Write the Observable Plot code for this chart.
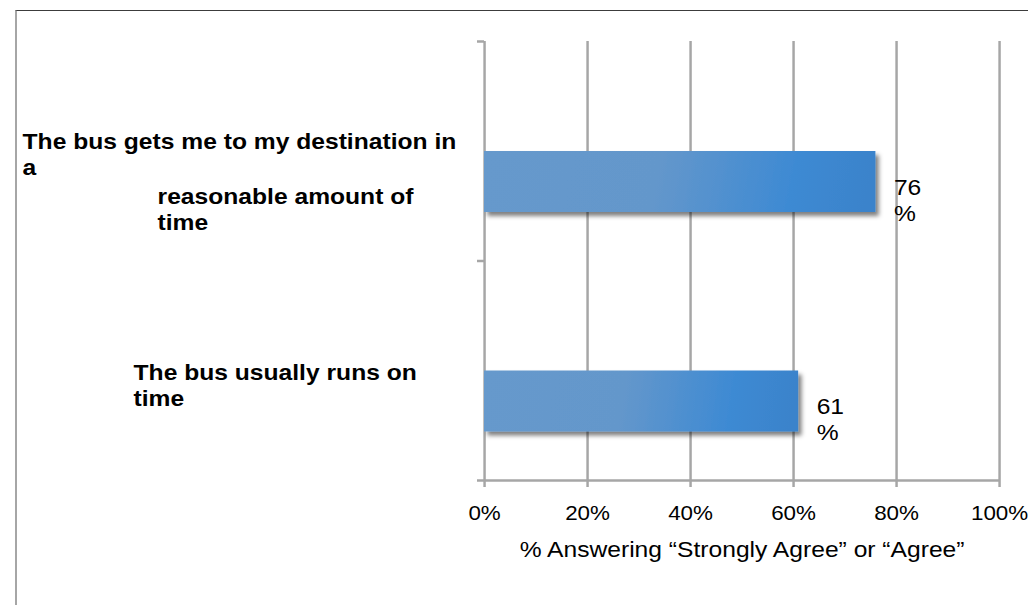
<!DOCTYPE html>
<html><head><meta charset="utf-8">
<script src="https://cdn.jsdelivr.net/npm/d3@7"></script>
<script src="https://cdn.jsdelivr.net/npm/@observablehq/plot@0.6"></script>
<style>
html,body{margin:0;padding:0;background:#fff;overflow:hidden;width:1028px;height:605px;}
#frame{position:absolute;left:15px;top:10px;width:2000px;height:2000px;border-top:1.5px solid #3c3c3c;border-left:2px solid #a6a6a6;}
#chart{position:absolute;left:0;top:0;}
</style></head><body>
<div id="frame"></div><div id="chart"></div>
<script>
// ---- data ----
const categories = [
  "The bus gets me to my destination in a reasonable amount of time",
  "The bus usually runs on time"
];
const values = [76, 61];
const labelChunks = [
  ["The bus gets me to my destination in\na", "reasonable amount of\ntime"],
  ["The bus usually runs on\ntime"]
];
const xTicks = [0, 20, 40, 60, 80, 100];
const xTitle = "% Answering \u201cStrongly Agree\u201d or \u201cAgree\u201d";

// ---- layout ----
const S = 1.12, W = 1028 / S, H = 605;
const gray = "#a6a6a6";
const barFallback = "#5f95cd";
const font = "'Liberation Sans', Arial, Helvetica, sans-serif";
const data = categories.map((c, i) => ({category: c, value: values[i], i}));

const labelText = (chunk, dx, dy) => Plot.text([data[chunk[0]]], {
  y: d => d.i + 0.5, text: () => labelChunks[chunk[0]][chunk[1]],
  frameAnchor: "left", textAnchor: "start", lineAnchor: "middle", lineHeight: 1.2,
  dx, dy, fontSize: 22, fontWeight: "bold", fill: "#000"
});

const chart = Plot.plot({
  width: W, height: H,
  marginLeft: 484 / S, marginRight: 29 / S, marginTop: 41, marginBottom: 125,
  style: {fontFamily: font, fontSize: "20px", color: "#000", background: "transparent", overflow: "visible"},
  x: {domain: [0, 100]},
  y: {domain: [0, categories.length], reverse: true},
  marks: [
    Plot.ruleX(xTicks, {stroke: gray, strokeWidth: 2.2, strokeOpacity: 1}),
    Plot.rect(data, {x1: 0, x2: "value", y1: "i", y2: d => d.i + 1, insetTop: 110, insetBottom: 48.5, fill: barFallback}),
    Plot.ruleY([categories.length], {stroke: gray, strokeWidth: 2.5, strokeOpacity: 1}),
    Plot.axisY(d3.range(categories.length + 1), {tickSize: 6.25, tickFormat: () => "", stroke: gray, strokeWidth: 2.5, strokeOpacity: 1, label: null}),
    Plot.axisX(xTicks, {tickFormat: d => d + "%", tickSize: 7, tickPadding: 18, fontSize: 20, stroke: gray, strokeWidth: 2.2, strokeOpacity: 1, fill: "#000", label: null}),
    Plot.text(data, {x: "value", y: d => d.i + 0.5, text: d => `${d.value}\n%`, textAnchor: "start",
      dx: 16, dy: 48, lineAnchor: "middle", lineHeight: 1.2, fontSize: 22, fill: "#000"}),
    labelText([0, 0], 22 / S - 484 / S, 2),
    labelText([0, 1], 157 / S - 484 / S, 57.5),
    labelText([1, 0], 133 / S - 484 / S, 14),
    Plot.text([xTitle], {text: d => d, frameAnchor: "bottom", dy: 69, fontSize: 22, lineAnchor: "middle", fill: "#000"})
  ]
});

// stretch horizontally like the reference
chart.setAttribute("width", 1028);
chart.setAttribute("height", H);
chart.setAttribute("preserveAspectRatio", "none");
chart.style.width = "1028px";
chart.style.height = H + "px";
chart.style.maxWidth = "none";

const svg = d3.select(chart);
const defs = svg.insert("defs", ":first-child");
const g = defs.append("linearGradient").attr("id", "barGrad")
  .attr("x1", 0).attr("y1", 0).attr("x2", 1).attr("y2", 0.03);
[[0, "#6699cc"], [0.45, "#6497cb"], [0.8, "#3e8ad3"], [1, "#3a83cb"]]
  .forEach(([o, c]) => g.append("stop").attr("offset", o).attr("stop-color", c));
const f = defs.append("filter").attr("id", "shadow")
  .attr("x", "-5%").attr("y", "-20%").attr("width", "115%").attr("height", "170%");
f.append("feDropShadow").attr("dx", 3).attr("dy", 4).attr("stdDeviation", 2)
  .attr("flood-color", "#000").attr("flood-opacity", 0.5);

const isBarFill = el => (el.getAttribute("fill") || "").toLowerCase() === barFallback;
svg.selectAll("g").filter(function() { return isBarFill(this); }).each(function() {
  d3.select(this).attr("fill", "url(#barGrad)").selectAll("rect").attr("filter", "url(#shadow)");
});
svg.selectAll("rect").filter(function() { return isBarFill(this); })
  .attr("fill", "url(#barGrad)").attr("filter", "url(#shadow)");

document.getElementById("chart").appendChild(chart);
</script>
</body></html>
